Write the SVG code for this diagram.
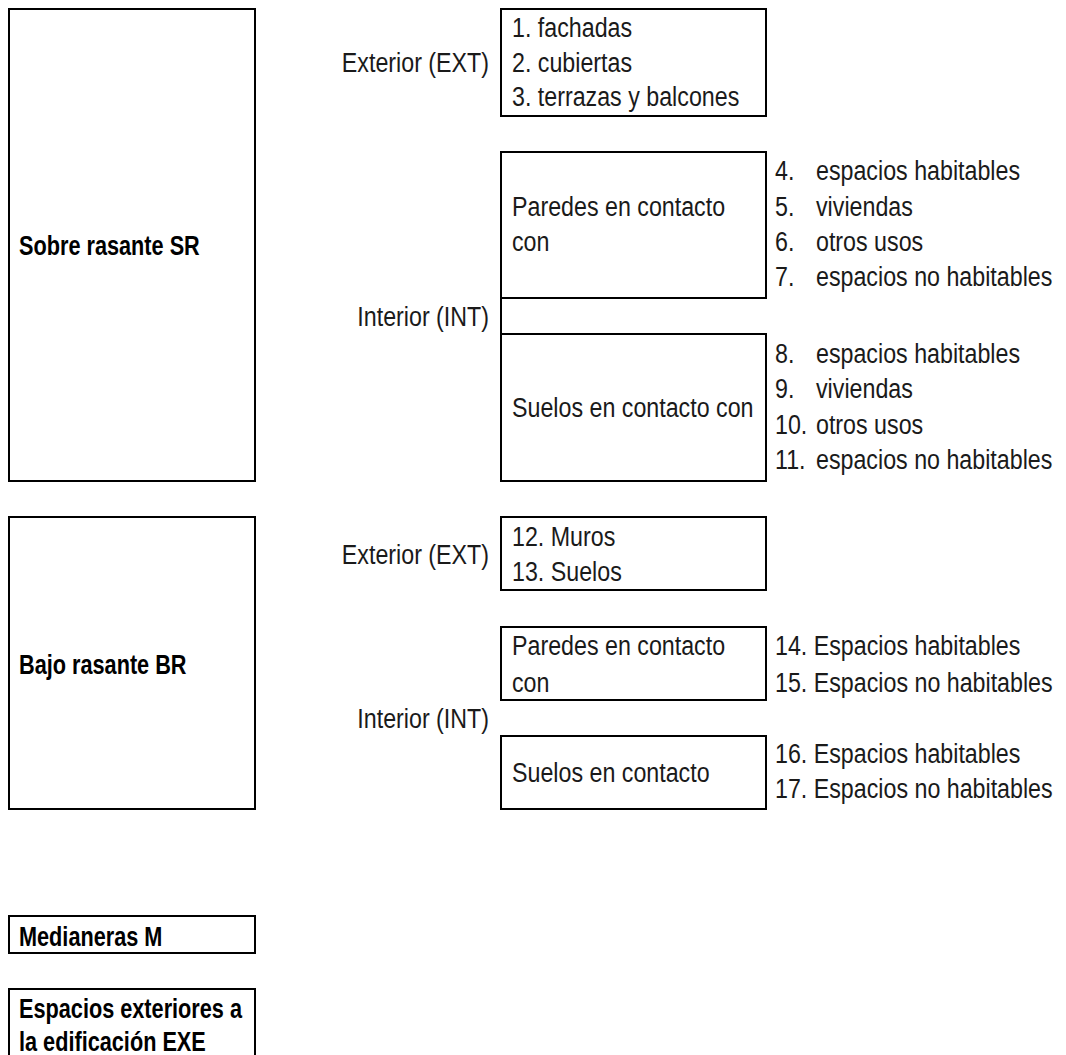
<svg xmlns="http://www.w3.org/2000/svg" width="1066" height="1055" viewBox="0 0 1066 1055">
<style>
  .box { fill: #fff; stroke: #000; stroke-width: 2; }
  .con { fill: none; stroke: #000; stroke-width: 2; }
  text { font-family: "Liberation Sans", Arial, sans-serif; font-size: 28px; fill: #1a1a1a; }
  .main { font-weight: bold; fill: #000; }
  .end { text-anchor: end; }
</style>
<rect width="1066" height="1055" fill="#fff"/>

<g id="sr">
  <rect class="box" x="9" y="9" width="246" height="472"/>
  <text class="main" transform="translate(19,255) scale(0.775,1)">Sobre rasante SR</text>
</g>
<g id="sr-ext-label"><text class="end" transform="translate(489,72) scale(0.83,1)">Exterior (EXT)</text></g>
<g id="sr-ext">
  <rect class="box" x="501" y="9" width="265" height="107"/>
  <text transform="translate(512,37) scale(0.83,1)">1. fachadas</text>
  <text transform="translate(512,72) scale(0.83,1)">2. cubiertas</text>
  <text transform="translate(512,106) scale(0.83,1)">3. terrazas y balcones</text>
</g>
<g id="sr-int-label"><text class="end" transform="translate(489,326) scale(0.83,1)">Interior (INT)</text></g>
<g id="sr-paredes">
  <rect class="box" x="501" y="152" width="265" height="146"/>
  <text transform="translate(512,216) scale(0.83,1)">Paredes en contacto</text>
  <text transform="translate(512,251) scale(0.83,1)">con</text>
</g>
<g id="sr-paredes-list">
  <text transform="translate(775,180) scale(0.83,1)">4.</text><text transform="translate(816,180) scale(0.83,1)">espacios habitables</text>
  <text transform="translate(775,216) scale(0.83,1)">5.</text><text transform="translate(816,216) scale(0.83,1)">viviendas</text>
  <text transform="translate(775,251) scale(0.83,1)">6.</text><text transform="translate(816,251) scale(0.83,1)">otros usos</text>
  <text transform="translate(775,286) scale(0.83,1)">7.</text><text transform="translate(816,286) scale(0.83,1)">espacios no habitables</text>
</g>
<g id="sr-suelos">
  <rect class="box" x="501" y="334" width="265" height="147"/>
  <text transform="translate(512,417) scale(0.83,1)">Suelos en contacto con</text>
</g>
<g id="sr-suelos-list">
  <text transform="translate(775,363) scale(0.83,1)">8.</text><text transform="translate(816,363) scale(0.83,1)">espacios habitables</text>
  <text transform="translate(775,398) scale(0.83,1)">9.</text><text transform="translate(816,398) scale(0.83,1)">viviendas</text>
  <text transform="translate(775,434) scale(0.83,1)">10.</text><text transform="translate(816,434) scale(0.83,1)">otros usos</text>
  <text transform="translate(775,469) scale(0.83,1)">11.</text><text transform="translate(816,469) scale(0.83,1)">espacios no habitables</text>
</g>

<g id="br">
  <rect class="box" x="9" y="517" width="246" height="292"/>
  <text class="main" transform="translate(19,674) scale(0.775,1)">Bajo rasante BR</text>
</g>
<g id="br-ext-label"><text class="end" transform="translate(489,564) scale(0.83,1)">Exterior (EXT)</text></g>
<g id="br-ext">
  <rect class="box" x="501" y="517" width="265" height="73"/>
  <text transform="translate(512,546) scale(0.83,1)">12. Muros</text>
  <text transform="translate(512,581) scale(0.83,1)">13. Suelos</text>
</g>
<g id="br-int-label"><text class="end" transform="translate(489,728) scale(0.83,1)">Interior (INT)</text></g>
<g id="br-paredes">
  <rect class="box" x="501" y="627" width="265" height="73"/>
  <text transform="translate(512,655) scale(0.83,1)">Paredes en contacto</text>
  <text transform="translate(512,692) scale(0.83,1)">con</text>
</g>
<g id="br-paredes-list">
  <text transform="translate(775,655) scale(0.83,1)">14. Espacios habitables</text>
  <text transform="translate(775,692) scale(0.83,1)">15. Espacios no habitables</text>
</g>
<g id="br-suelos">
  <rect class="box" x="501" y="736" width="265" height="73"/>
  <text transform="translate(512,782) scale(0.83,1)">Suelos en contacto</text>
</g>
<g id="br-suelos-list">
  <text transform="translate(775,763) scale(0.83,1)">16. Espacios habitables</text>
  <text transform="translate(775,798) scale(0.83,1)">17. Espacios no habitables</text>
</g>

<g id="medianeras">
  <rect class="box" x="9" y="916" width="246" height="37"/>
  <text class="main" transform="translate(19,946) scale(0.775,1)">Medianeras M</text>
</g>
<g id="exe">
  <rect class="box" x="9" y="989" width="246" height="80"/>
  <text class="main" transform="translate(19,1018) scale(0.775,1)">Espacios exteriores a</text>
  <text class="main" transform="translate(19,1051) scale(0.775,1)">la edificación EXE</text>
</g>

<g id="connectors">
  <line class="con" x1="501" y1="298" x2="501" y2="334"/>
</g>
</svg>
